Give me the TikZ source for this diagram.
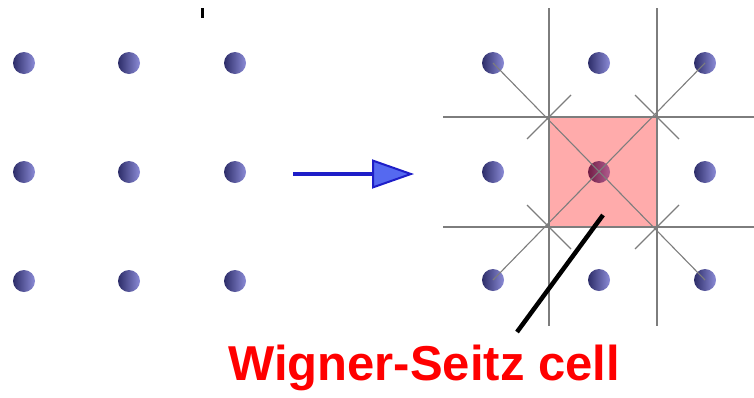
\documentclass[tikz,border=0pt]{standalone}
\usepackage{fontspec}
\setsansfont{Liberation Sans}
\usetikzlibrary{arrows.meta,positioning}
\definecolor{atomdark}{RGB}{45,45,105}
\definecolor{atomlight}{RGB}{140,140,215}
\definecolor{gridgray}{RGB}{125,125,125}
\definecolor{arrowblue}{RGB}{30,30,200}
\definecolor{headblue}{RGB}{85,105,240}

\begin{document}
\begin{tikzpicture}[
        x=1pt, y=-1pt,
        % Estilos
        atom/.style={circle, inner sep=0pt, minimum size=22pt, shading=axis, left color=atomdark, right color=atomlight, shading angle=90},
        wsline/.style={draw=gridgray, line width=1.1pt},
        cell/.style={fill=red, fill opacity=0.33, draw=red!60!black, draw opacity=0.6, line width=1pt},
        maparrow/.style={draw=arrowblue, line width=3.5pt, -{Triangle[length=42pt, width=29pt, line width=2pt, fill=headblue]}},
        pointer/.style={draw=black, line width=4.5pt},
        title/.style={text=red, font=\sffamily\bfseries\fontsize{49}{55}\selectfont, inner sep=0pt}
    ]
    \useasboundingbox (0,0) rectangle (754,397);

    % marca pequena arriba
    \draw[line width=3pt] (202,8) -- (202,18);

    % Red izquierda
    \foreach \i/\x in {1/24,2/129,3/235}
        \foreach \j/\y in {1/63,2/172,3/281}
            \node[atom] (L-\i-\j) at (\x,\y) {};

    % Red derecha
    \foreach \i/\x in {1/493,2/599,3/705}
        \foreach \j/\y in {1/63,2/172,3/280}
            \node[atom] (R-\i-\j) at (\x,\y) {};

    % Celda de Wigner-Seitz
    \coordinate (c-tl) at (549,117);
    \coordinate (c-tr) at (657,117);
    \coordinate (c-bl) at (549,227);
    \coordinate (c-br) at (657,227);
    \fill[cell] (c-tl) rectangle (c-br);

    % planos bisectores
    \draw[wsline] (c-tl |- 0,8) -- (c-tl |- 0,326);
    \draw[wsline] (c-tr |- 0,8) -- (c-tr |- 0,326);
    \draw[wsline] (443,117) -- (754,117);
    \draw[wsline] (443,227) -- (754,227);

    % diagonales a los vecinos
    \draw[wsline] (R-1-1.center) -- (R-3-3.center);
    \draw[wsline] (R-3-1.center) -- (R-1-3.center);
    \draw[wsline] ([shift={(-22,22)}]c-tl) -- ([shift={(22,-22)}]c-tl);
    \draw[wsline] ([shift={(-22,-22)}]c-tr) -- ([shift={(22,22)}]c-tr);
    \draw[wsline] ([shift={(-22,-22)}]c-bl) -- ([shift={(22,22)}]c-bl);
    \draw[wsline] ([shift={(-22,22)}]c-br) -- ([shift={(22,-22)}]c-br);

    % Flecha entre redes
    \coordinate (map-from) at (293,174);
    \coordinate (map-to) at (414,174);
    \draw[maparrow] (map-from) -- (map-to);

    % Etiqueta
    \node[title] (wslabel) at (424,368) {Wigner-Seitz cell};
    \coordinate (ptr-in) at (603,215);
    \coordinate (ptr-out) at (517,332);
    \draw[pointer] (ptr-in) -- (ptr-out);

\end{tikzpicture}
\end{document}
